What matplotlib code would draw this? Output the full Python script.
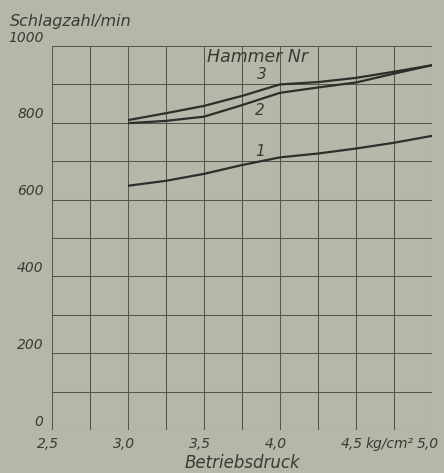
import matplotlib.pyplot as plt
import matplotlib.transforms as mtransforms

# Betriebsdruck in kg/cm2
druck = [3.0, 3.25, 3.5, 3.75, 4.0, 4.25, 4.5, 4.75, 5.0]
# Schlagzahl/min per hammer
hammer_1 = [636, 649, 667, 690, 710, 720, 733, 748, 766]
hammer_2 = [799, 805, 816, 846, 878, 892, 905, 928, 950]
hammer_3 = [807, 825, 844, 870, 900, 906, 917, 933, 950]

y_ticks = [0, 200, 400, 600, 800, 1000]
x_ticks = [2.5, 3.0, 3.5, 4.0, 4.5, 5.0]
x_labels = ['2,5', '3,0', '3,5', '4,0', '4,5', '5,0']

bg = '#b7b7a9'
ink = '#2e2e2a'
grid_col = '#56564f'
txt = '#3a3a35'

plt.rcParams['font.family'] = ['DejaVu Sans']
plt.rcParams['font.style'] = 'italic'

fig = plt.figure(figsize=(4.44, 4.73), dpi=100, facecolor=bg)
ax = fig.add_axes([52 / 444, 43 / 473, 380 / 444, 384 / 473])
ax.set_facecolor(bg)
ax.set_xlim(2.5, 5.0)
ax.set_ylim(0, 1000)

for x in [2.5 + 0.25 * i for i in range(11)]:
    ax.axvline(x, color=grid_col, lw=0.75, zorder=1)
for y in range(0, 1001, 100):
    ax.axhline(y, color=grid_col, lw=0.75, zorder=1)
for s in ax.spines.values():
    s.set_visible(False)
ax.set_xticks([])
ax.set_yticks([])

for ys in (hammer_1, hammer_2, hammer_3):
    ax.plot(druck, ys, color=ink, lw=1.6, zorder=3, solid_capstyle='butt')

tick_kw = dict(fontsize=10, color=txt, style='italic')
ytr = mtransforms.blended_transform_factory(ax.transAxes, ax.transData) + \
    mtransforms.ScaledTranslation(-6 / 72, 1 / 72, fig.dpi_scale_trans)
for v in y_ticks:
    ax.text(0, v, str(v), transform=ytr, ha='right', va='bottom', **tick_kw)

xtr = mtransforms.blended_transform_factory(ax.transData, ax.transAxes) + \
    mtransforms.ScaledTranslation(-3 / 72, -5 / 72, fig.dpi_scale_trans)
for v, lab in zip(x_ticks, x_labels):
    ax.text(v, 0, lab, transform=xtr, ha='center', va='top', **tick_kw)
ax.text(4.75, 0, 'kg/cm²', transform=xtr, ha='center', va='top', **tick_kw)

ax.text(-0.11, 1.065, 'Schlagzahl/min', transform=ax.transAxes,
        ha='left', va='center', fontsize=11.5, color=txt)
ax.text(0.5, -0.087, 'Betriebsdruck', transform=ax.transAxes,
        ha='center', va='center', fontsize=12, color=txt)

ax.text(3.52, 972, 'Hammer Nr', ha='left', va='center', fontsize=12.5, color=txt)
ax.text(3.88, 925, '3', ha='center', va='center', fontsize=11, color=txt)
ax.text(3.87, 833, '2', ha='center', va='center', fontsize=11, color=txt)
ax.text(3.87, 726, '1', ha='center', va='center', fontsize=11, color=txt)

fig.savefig('out.png', dpi=100, facecolor=bg)
